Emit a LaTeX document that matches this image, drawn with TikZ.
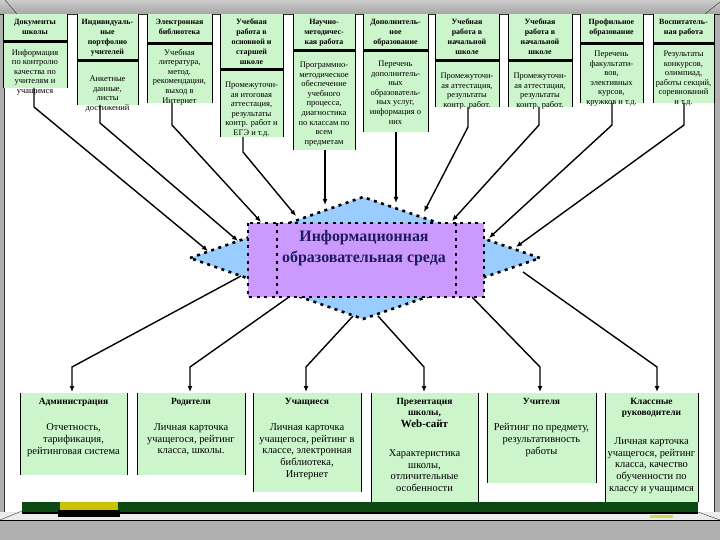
\documentclass[tikz,border=0pt]{standalone}
\usepackage{fontspec}
\setmainfont{Liberation Serif}
\usepackage{tikz}
\usetikzlibrary{
    arrows.meta,
    positioning,
    calc
}

\begin{document}
\begin{tikzpicture}[x=1bp,y=-1bp,
    conn/.style={line width=1.4bp,-{Latex[length=6bp,width=5bp]}},
    hdtext/.style={font=\fontsize{8}{10}\selectfont\bfseries,align=center,inner sep=0pt,anchor=north},
    bdtext/.style={font=\fontsize{8.5}{9.6}\selectfont,align=center,inner sep=0pt,anchor=north},
    lowhd/.style={font=\fontsize{9.5}{11.5}\selectfont\bfseries,align=center,inner sep=0pt,anchor=north},
    lowbd/.style={font=\fontsize{10.5}{12}\selectfont,align=center,inner sep=0pt,anchor=north},
    dashline/.style={line width=2.6bp,dash pattern=on 3bp off 4.5bp}]
            \definecolor{boxgreen}{HTML}{CCF5CC}
            \definecolor{boxpurple}{HTML}{CC99FF}
            \definecolor{diamondblue}{HTML}{99CCFF}
            \definecolor{titlenavy}{HTML}{1C1C5C}
            \definecolor{framegray}{HTML}{B0B0B0}
            \definecolor{boardgreen}{HTML}{0B4A12}
            \definecolor{chalkyellow}{HTML}{C8C400}
            \useasboundingbox (0,0) rectangle (720,540);
            % frame
            \fill[white] (0,0) rectangle (720,540);
            \fill[framegray] (0,0) rectangle (4,520) (714,0) rectangle (720,520);
            \shade[top color=gray!40,bottom color=gray!70] (0,0) rectangle (720,14);
            \draw[black!80] (0,14) -- (720,14) (4,14) -- (4,512) (714,14) -- (714,512);
            \draw[black!80] (5,0) -- (17,14) (720,2) -- (705,14);
            \fill[gray!15] (0,512) rectangle (720,520);
            \fill[framegray] (0,520) rectangle (720,540);
            \draw[black] (0,520) -- (720,520);
            \fill[boardgreen] (22,502) rectangle (698,512);
            \draw[black,line width=1.5bp] (22,513) -- (698,513);
            \draw[black!80] (0,520) -- (22,511) (698,512) -- (720,520);
            \fill[chalkyellow] (60,502) rectangle (118,510);
            \fill[black] (58,510) rectangle (120,517);
            \fill[chalkyellow!70] (650,515) rectangle (673,518);
            % upper boxes
            \foreach \xl/\xr/\yb/\yt/\ye/\hd/\bd [count=\i] in {
                3/67/40/49/88/{Документы\\школы}/{Информация\\по контролю\\качества по\\учителям и\\учащимся},
                77/138/59/76/105/{Индивидуаль-\\ные\\портфолио\\учителей}/{Анкетные\\данные,\\листы\\достижений},
                147/212/42/49/103/{Электронная\\библиотека}/{Учебная\\литература,\\метод.\\рекомендации,\\выход в\\Интернет},
                220/283/68/82/137/{Учебная\\работа в\\основной и\\старшей\\школе}/{Промежуточн-\\ая итоговая\\аттестация,\\результаты\\контр. работ и\\ЕГЭ и т.д.},
                293/355/49/62/150/{Научно-\\методичес-\\кая работа}/{Программно-\\методическое\\обеспечение\\учебного\\процесса,\\диагностика\\по классам по\\всем\\предметам},
                363/428/49/61/132/{Дополнитель-\\ное\\образование}/{Перечень\\дополнитель-\\ных\\образователь-\\ных услуг,\\информация о\\них},
                435/499/59/73/107/{Учебная\\работа в\\начальной\\школе}/{Промежуточн-\\ая аттестация,\\результаты\\контр. работ.},
                508/572/59/73/107/{Учебная\\работа в\\начальной\\школе}/{Промежуточн-\\ая аттестация,\\результаты\\контр. работ.},
                580/643/42/51/103/{Профильное\\образование}/{Перечень\\факультати-\\вов,\\элективных\\курсов,\\кружков и т.д.},
                653/714/42/51/103/{Воспитатель-\\ная работа}/{Результаты\\конкурсов,\\олимпиад,\\работы секций,\\соревнований\\и т.д.}}
            {
                \fill[boxgreen] (\xl,14) rectangle (\xr,\ye);
                \draw[line width=0.8bp] (\xl,14) -- (\xl,\ye) (\xr,14) -- (\xr,\ye);
                \fill[black] (\xl,\yb) rectangle (\xr,\yb+3.5);
                \node[hdtext] (hd\i) at ({(\xl+\xr)/2},19) {\hd};
                \node[bdtext] (bd\i) at ({(\xl+\xr)/2},\yt) {\bd};
            }
            % lower boxes
            \foreach \xl/\xr/\ye/\yt/\hd/\bd [count=\i] in {
                20/127/475/423/{Администрация}/{Отчетность,\\тарификация,\\рейтинговая система},
                137/245/475/423/{Родители}/{Личная карточка\\учащегося, рейтинг\\класса, школы.},
                253/361/492/423/{Учащиеся}/{Личная карточка\\учащегося, рейтинг в\\классе, электронная\\библиотека,\\Интернет},
                371/478/502/449/{Презентация\\школы,\\{\fontsize{11}{14}\selectfont Web-сайт}}/{Характеристика\\школы,\\отличительные\\особенности},
                487/596/483/423/{Учителя}/{Рейтинг по предмету,\\результативность\\работы},
                605/698/502/437/{Классные\\руководители}/{Личная карточка\\учащегося, рейтинг\\класса, качество\\обученности по\\классу и учащимся}}
            {
                \fill[boxgreen] (\xl,393) rectangle (\xr,\ye);
                \draw[line width=0.8bp] (\xl,393) -- (\xl,\ye) (\xr,393) -- (\xr,\ye);
                \node[lowhd] (lh\i) at ({(\xl+\xr)/2},398) {\hd};
                \node[lowbd] (lb\i) at ({(\xl+\xr)/2},\yt) {\bd};
            }
            % central shape
            \coordinate (dl) at (190,258);
            \coordinate (dt) at (363,197);
            \coordinate (dr) at (540,258);
            \coordinate (db) at (363,319);
            \fill[diamondblue] (dl) -- (dt) -- (dr) -- (db) -- cycle;
            \draw[dashline] (dl) -- (dt) -- (dr) -- (db) -- cycle;
            \fill[boxpurple] (248,223) rectangle (484,297);
            \draw[dashline] (248,223) rectangle (484,297);
            \draw[dashline] (277,223) -- (277,297) (456,223) -- (456,297);
            \node[font=\fontsize{16}{21}\selectfont\bfseries,text=titlenavy,align=center,inner sep=0pt]
                (ios) at (364,248) {Информационная\\образовательная среда};
            % connectors from the upper boxes
            \foreach \i/\sx/\sy/\ky/\ex/\ey in {
                1/34/88/107/208/251, 2/100/105/123/238/241, 3/172/103/125/261/222,
                4/243/137/152/296/216, 5/325/150/170/325/205, 6/396/132/160/396/203,
                7/468/107/127/424/212, 8/539/107/125/452/221, 9/612/103/125/489/238,
                10/684/103/125/516/247}
            {
                \coordinate (s\i) at (\sx,\sy);
                \coordinate (k\i) at (\sx,\ky);
                \coordinate (e\i) at (\ex,\ey);
                \draw[conn] (s\i) -- (k\i) -- (e\i);
            }
            % connectors to the lower boxes
            \foreach \i/\sx/\sy/\ex in {
                1/241/276/72, 2/289/297/190, 3/353/316/306,
                4/378/316/424, 5/472/297/540, 6/523/272/657}
            {
                \coordinate (u\i) at (\sx,\sy);
                \coordinate (v\i) at (\ex,367);
                \coordinate (w\i) at (\ex,392);
                \draw[conn] (u\i) -- (v\i) -- (w\i);
            }
        \end{tikzpicture}
\end{document}
